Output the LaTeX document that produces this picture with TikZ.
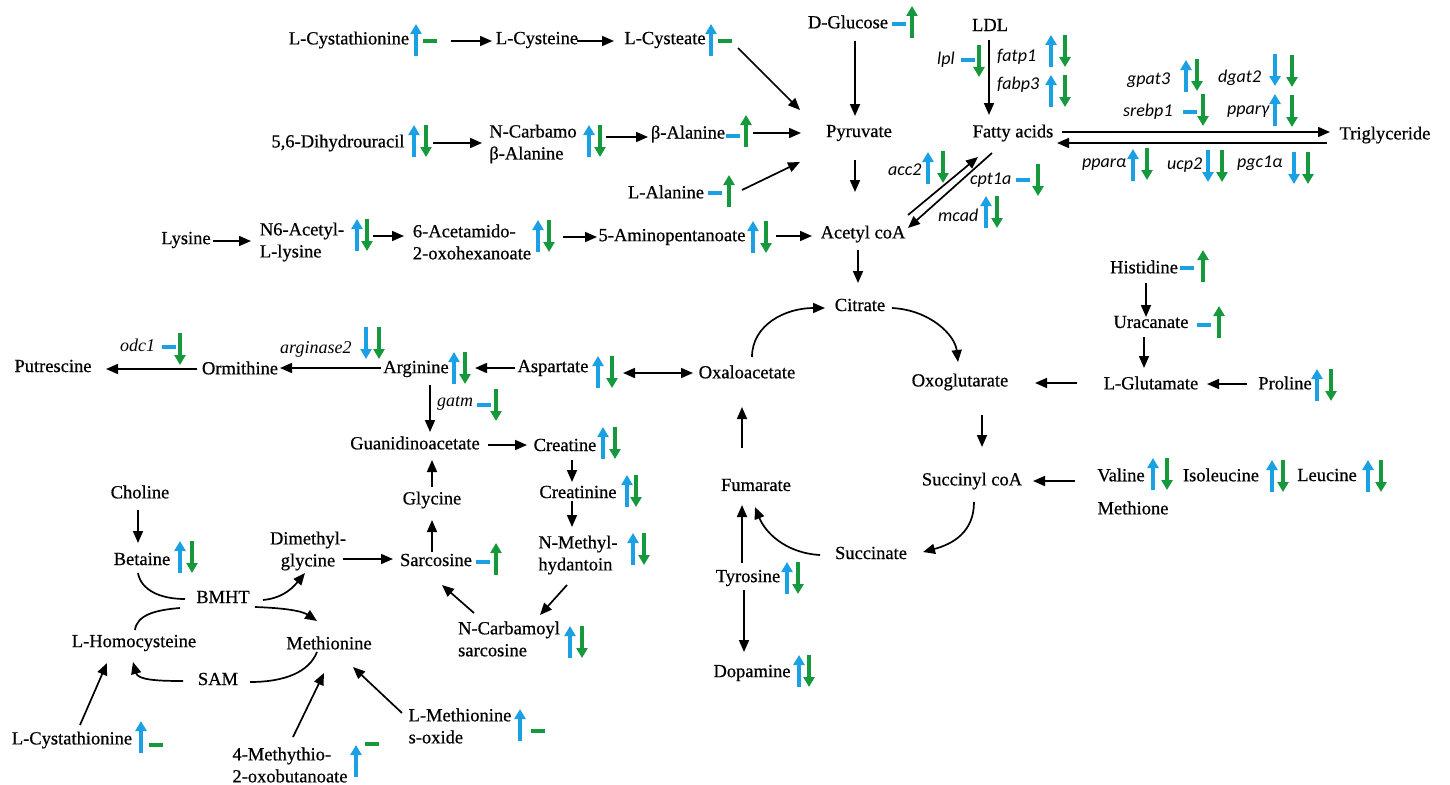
\documentclass[tikz,border=0pt]{standalone}
\usepackage{fontspec}
\setmainfont{Liberation Serif}
\newfontfamily\mfont{Liberation Serif}[BoldFont=Liberation Serif,BoldFeatures={FakeBold=0.6}]
\newfontfamily\genefont{Carlito}
\usetikzlibrary{arrows.meta}
\definecolor{cb}{RGB}{28,160,228}
\definecolor{cg}{RGB}{22,152,60}
\tikzset{
 mt/.style={font=\mfont\bfseries\fontsize{18.5}{22}\selectfont, inner sep=0pt, align=left},
 gn/.style={font=\genefont\itshape\fontsize{18}{20}\selectfont, inner sep=0pt, anchor=west},
 sg/.style={font=\itshape\fontsize{18}{22}\selectfont, inner sep=0pt, anchor=west},
 arr/.style={line width=1.7pt, -{Triangle[length=12pt,width=10pt]}},
 darr/.style={line width=1.7pt, {Triangle[length=12pt,width=10pt]}-{Triangle[length=12pt,width=10pt]}},
 ln/.style={line width=1.7pt},
 ind/.style={line width=3.5pt, -{Triangle[length=10pt,width=11pt]}},
 bU/.pic={\draw[ind,cb] (0,16)--(0,-16);},
 bD/.pic={\draw[ind,cb] (0,-16)--(0,16);},
 bN/.pic={\draw[cb,line width=3.5pt] (-7,0)--(7,0);},
 gU/.pic={\draw[ind,cg] (0,16)--(0,-16);},
 gD/.pic={\draw[ind,cg] (0,-16)--(0,16);},
 gN/.pic={\draw[cg,line width=3.5pt] (-7,0)--(7,0);},
}
\begin{document}
\begin{tikzpicture}[x=1pt,y=-1pt]
\useasboundingbox[fill=white] (0,0) rectangle (1450,784);
% ---------- metabolites ----------
\node[mt] (lcyst1) at (349,40) {L-Cystathionine};
\node[mt] (lcysteine) at (537,40) {L-Cysteine};
\node[mt] (lcysteate) at (665,40) {L-Cysteate};
\node[mt] (dhu) at (338,143) {5,6-Dihydrouracil};
\node[mt] (ncb) at (533,144) {N-Carbamo\\β-Alanine};
\node[mt] (balan) at (688,134) {β-Alanine};
\node[mt] (pyr) at (859,133) {Pyruvate};
\node[mt] (lala) at (666,192) {L-Alanine};
\node[mt] (dglu) at (848,22) {D-Glucose};
\node[mt] (lys) at (186,240) {Lysine};
\node[mt] (n6) at (302,242) {N6-Acetyl-\\L-lysine};
\node[mt] (aceta) at (472,242) {6-Acetamido-\\2-oxohexanoate};
\node[mt] (amino) at (672,237) {5-Aminopentanoate};
\node[mt] (acoa) at (863,234) {Acetyl coA};
\node[mt] (ldl) at (990,25) {LDL};
\node[mt] (fa) at (1013,133) {Fatty acids};
\node[mt] (tg) at (1385,135) {Triglyceride};
\node[mt] (citrate) at (860,305) {Citrate};
\node[mt] (oaa) at (747,372) {Oxaloacetate};
\node[mt] (oxo) at (960,382) {Oxoglutarate};
\node[mt] (scoa) at (972,481) {Succinyl coA};
\node[mt] (succ) at (871,553) {Succinate};
\node[mt] (fum) at (756,485) {Fumarate};
\node[mt] (tyr) at (748,578) {Tyrosine};
\node[mt] (dop) at (752,673) {Dopamine};
\node[mt] (his) at (1144,267) {Histidine};
\node[mt] (ura) at (1151,322) {Uracanate};
\node[mt] (glu) at (1151,383) {L-Glutamate};
\node[mt] (pro) at (1285,383) {Proline};
\node[mt] (val) at (1121,475) {Valine};
\node[mt] (ile) at (1221,475) {Isoleucine};
\node[mt] (leu) at (1327,475) {Leucine};
\node[mt] (meth2) at (1133,508) {Methione};
\node[mt] (asp) at (553,368) {Aspartate};
\node[mt] (arg) at (416,369) {Arginine};
\node[mt] (orn) at (240,368) {Ormithine};
\node[mt] (put) at (53,366) {Putrescine};
\node[mt] (gaa) at (415,443) {Guanidinoacetate};
\node[mt] (crea) at (565,445) {Creatine};
\node[mt] (crn) at (578,492) {Creatinine};
\node[mt] (nmh) at (578,555) {N-Methyl-\\hydantoin};
\node[mt] (ncs) at (509,639) {N-Carbamoyl\\sarcosine};
\node[mt] (sar) at (436,560) {Sarcosine};
\node[mt] (gly) at (432,500) {Glycine};
\node[mt,align=center] (dmg) at (308,551) {Dimethyl-\\glycine};
\node[mt] (chol) at (140,492) {Choline};
\node[mt] (bet) at (142,559) {Betaine};
\node[mt] (bmht) at (223,597) {BMHT};
\node[mt] (hcy) at (134,643) {L-Homocysteine};
\node[mt] (met) at (329,643) {Methionine};
\node[mt] (sam) at (218,679) {SAM};
\node[mt] (lcyst2) at (72,740) {L-Cystathionine};
\node[mt] (mtob) at (290,765) {4-Methythio-\\2-oxobutanoate};
\node[mt] (mso) at (460,726) {L-Methionine\\s-oxide};
% ---------- gene labels ----------
\node[gn] (lpl) at (937,60) {lpl};
\node[gn] (fatp1) at (997,57) {fatp1};
\node[gn] (fabp3) at (997,85) {fabp3};
\node[gn] (gpat3) at (1127,80) {gpat3};
\node[gn] (dgat2) at (1218,78) {dgat2};
\node[gn] (srebp1) at (1123,112) {srebp1};
\node[gn] (pparg) at (1227,112) {pparγ};
\node[gn] (ppara) at (1082,165) {pparα};
\node[gn] (ucp2) at (1167,165) {ucp2};
\node[gn] (pgc1a) at (1237,163) {pgc1α};
\node[gn] (acc2) at (888,170) {acc2};
\node[gn] (cpt1a) at (970,180) {cpt1a};
\node[gn] (mcad) at (938,215) {mcad};
\node[sg] (odc1) at (120,345) {odc1};
\node[sg] (arginase2) at (280,349) {arginase2};
\node[sg] (gatm) at (437,403) {gatm};
% ---------- indicators ----------
\pic at (416,40) {bU}; \pic at (430,41) {gN};
\pic at (711,40) {bU}; \pic at (725,41) {gN};
\pic at (414,141) {bU}; \pic at (426,141) {gD};
\pic at (589,141) {bU}; \pic at (600,141) {gD};
\pic at (733,136) {bN}; \pic at (746,131) {gU};
\pic at (715,193) {bN}; \pic at (729,191) {gU};
\pic at (899,24) {bN}; \pic at (912,22) {gU};
\pic at (357,235) {bU}; \pic at (367,235) {gD};
\pic at (538,236) {bU}; \pic at (549,236) {gD};
\pic at (753,237) {bU}; \pic at (766,237) {gD};
\pic at (787,578) {bU}; \pic at (798,578) {gD};
\pic at (799,671) {bU}; \pic at (809,671) {gD};
\pic at (1187,268) {bN}; \pic at (1203,266) {gU};
\pic at (1204,325) {bN}; \pic at (1219,322) {gU};
\pic at (1317,385) {bU}; \pic at (1331,385) {gD};
\pic at (1153,474) {bU}; \pic at (1167,474) {gD};
\pic at (1272,476) {bU}; \pic at (1283,476) {gD};
\pic at (1368,476) {bU}; \pic at (1381,476) {gD};
\pic at (598,372) {bU}; \pic at (612,372) {gD};
\pic at (454,368) {bU}; \pic at (465,368) {gD};
\pic at (603,443) {bU}; \pic at (615,443) {gD};
\pic at (627,491) {bU}; \pic at (636,491) {gD};
\pic at (633,549) {bU}; \pic at (644,549) {gD};
\pic at (570,642) {bU}; \pic at (582,642) {gD};
\pic at (483,562) {bN}; \pic at (496,559) {gU};
\pic at (180,557) {bU}; \pic at (192,557) {gD};
\pic at (141,737) {bU}; \pic at (156,745) {gN};
\pic at (356,761) {bU}; \pic at (372,744) {gN};
\pic at (520,725) {bU}; \pic at (538,731) {gN};
% gene indicators
\pic at (968,60) {bN}; \pic at (979,61) {gD};
\pic at (1051,51) {bU}; \pic at (1065,51) {gD};
\pic at (1051,91) {bU}; \pic at (1065,91) {gD};
\pic at (1186,76) {bU}; \pic at (1197,75) {gD};
\pic at (1275,70) {bD}; \pic at (1292,71) {gD};
\pic at (1190,112) {bN}; \pic at (1203,110) {gD};
\pic at (1275,110) {bU}; \pic at (1292,111) {gD};
\pic at (1133,165) {bU}; \pic at (1147,164) {gD};
\pic at (1208,166) {bD}; \pic at (1222,166) {gD};
\pic at (1294,168) {bD}; \pic at (1308,168) {gD};
\pic at (928,168) {bU}; \pic at (943,167) {gD};
\pic at (1023,180) {bN}; \pic at (1038,180) {gD};
\pic at (986,212) {bU}; \pic at (997,212) {gD};
\pic at (169,347) {bN}; \pic at (180,349) {gD};
\pic at (366,343) {bD}; \pic at (379,343) {gD};
\pic at (484,405) {bN}; \pic at (496,405) {gD};
% ---------- connectors ----------
\draw[arr] ([shift={(102,1)}]lcyst1.center) -- ([shift={(-45,1)}]lcysteine.center);
\draw[arr] ([shift={(40,1)}]lcysteine.center) -- ([shift={(-51,1)}]lcysteate.center);
\draw[arr] ([shift={(73,8)}]lcysteate.center) -- ([shift={(-59,-23)}]pyr.center);
\draw[arr] ([shift={(95,0)}]dhu.center) -- ([shift={(-51,-1)}]ncb.center);
\draw[arr] ([shift={(73,-7)}]ncb.center) -- ([shift={(-40,3)}]balan.center);
\draw[arr] ([shift={(65,-1)}]balan.center) -- ([shift={(-58,0)}]pyr.center);
\draw[arr] ([shift={(76,-2)}]lala.center) -- ([shift={(-59,29)}]pyr.center);
\draw[arr] ([shift={(7,19)}]dglu.center) -- ([shift={(-4,-17)}]pyr.center);
\draw[arr] ([shift={(-4,27)}]pyr.center) -- ([shift={(-8,-42)}]acoa.center);
\draw[arr] ([shift={(27,1)}]lys.center) -- ([shift={(-51,-1)}]n6.center);
\draw[arr] ([shift={(71,-6)}]n6.center) -- ([shift={(-68,-6)}]aceta.center);
\draw[arr] ([shift={(91,-5)}]aceta.center) -- ([shift={(-75,0)}]amino.center);
\draw[arr] ([shift={(104,-1)}]amino.center) -- ([shift={(-51,2)}]acoa.center);
\draw[arr] ([shift={(45,-19)}]acoa.center) -- ([shift={(-35,24)}]fa.center);
\draw[arr] ([shift={(-21,20)}]fa.center) -- ([shift={(45,-6)}]acoa.center);
\draw[arr] ([shift={(-1,15)}]ldl.center) -- ([shift={(-24,-18)}]fa.center);
\draw[arr] ([shift={(49,-1)}]fa.center) -- ([shift={(-55,-3)}]tg.center);
\draw[arr] ([shift={(-58,8)}]tg.center) -- ([shift={(44,10)}]fa.center);
\draw[arr] ([shift={(-5,16)}]acoa.center) -- ([shift={(-2,-22)}]citrate.center);
\draw[arr] ([shift={(5,-15)}]oaa.center) .. controls +(0,-32) and +(-40,0) .. ([shift={(-35,3)}]citrate.center);
\draw[arr] ([shift={(32,3)}]citrate.center) .. controls +(38,2) and +(-3,-27) .. ([shift={(-2,-20)}]oxo.center);
\draw[arr] ([shift={(-74,0)}]glu.center) -- ([shift={(75,1)}]oxo.center);
\draw[arr] ([shift={(-38,1)}]pro.center) -- ([shift={(56,1)}]glu.center);
\draw[arr] ([shift={(2,16)}]his.center) -- ([shift={(-5,-5)}]ura.center);
\draw[arr] ([shift={(-7,15)}]ura.center) -- ([shift={(-7,-15)}]glu.center);
\draw[arr] ([shift={(22,33)}]oxo.center) -- ([shift={(10,-34)}]scoa.center);
\draw[arr] ([shift={(-46,6)}]val.center) -- ([shift={(61,0)}]scoa.center);
\draw[arr] ([shift={(2,21)}]scoa.center) .. controls +(0,30) and +(30,-8) .. ([shift={(52,-1)}]succ.center);
\draw[arr] ([shift={(-51,2)}]succ.center) .. controls +(-35,-2) and +(10,25) .. ([shift={(-1,22)}]fum.center);
\draw[arr] ([shift={(-6,-15)}]tyr.center) -- ([shift={(-14,20)}]fum.center);
\draw[arr] ([shift={(-14,-37)}]fum.center) -- ([shift={(-5,35)}]oaa.center);
\draw[arr] ([shift={(-4,12)}]tyr.center) -- ([shift={(-8,-21)}]dop.center);
\draw[darr] ([shift={(70,5)}]asp.center) -- ([shift={(-54,1)}]oaa.center);
\draw[arr] ([shift={(-38,0)}]asp.center) -- ([shift={(59,-1)}]arg.center);
\draw[arr] ([shift={(-35,-1)}]arg.center) -- ([shift={(40,0)}]orn.center);
\draw[arr] ([shift={(-43,1)}]orn.center) -- ([shift={(53,3)}]put.center);
\draw[arr] ([shift={(14,16)}]arg.center) -- ([shift={(15,-11)}]gaa.center);
\draw[arr] ([shift={(73,2)}]gaa.center) -- ([shift={(-38,0)}]crea.center);
\draw[arr] ([shift={(7,15)}]crea.center) -- ([shift={(-6,-10)}]crn.center);
\draw[arr] ([shift={(-6,9)}]crn.center) -- ([shift={(-6,-28)}]nmh.center);
\draw[arr] ([shift={(-11,30)}]nmh.center) -- ([shift={(31,-24)}]ncs.center);
\draw[arr] ([shift={(-35,-26)}]ncs.center) -- ([shift={(6,25)}]sar.center);
\draw[arr] ([shift={(-4,-8)}]sar.center) -- ([shift={(0,20)}]gly.center);
\draw[arr] ([shift={(0,-13)}]gly.center) -- ([shift={(17,17)}]gaa.center);
\draw[arr] ([shift={(35,8)}]dmg.center) -- ([shift={(-43,-1)}]sar.center);
\draw[arr] ([shift={(-2,18)}]chol.center) -- ([shift={(-4,-16)}]bet.center);
\draw[ln] ([shift={(-4,14)}]bet.center) .. controls +(3,17) and +(-25,0) .. ([shift={(-38,2)}]bmht.center);
\draw[arr] ([shift={(40,3)}]bmht.center) .. controls +(22,-2) and +(-10,12) .. ([shift={(-3,22)}]dmg.center);
\draw[arr] ([shift={(32,10)}]bmht.center) .. controls +(30,1) and +(-15,-10) .. ([shift={(-12,-22)}]met.center);
\draw[ln] ([shift={(1,-13)}]hcy.center) .. controls +(2,-15) and +(-25,2) .. ([shift={(-43,11)}]bmht.center);
\draw[arr] ([shift={(-35,2)}]sam.center) .. controls +(-25,0) and +(5,18) .. ([shift={(-1,19)}]hcy.center);
\draw[ln] ([shift={(-12,9)}]met.center) .. controls +(-8,20) and +(35,0) .. ([shift={(32,3)}]sam.center);
\draw[arr] ([shift={(8,-15)}]lcyst2.center) -- ([shift={(-27,20)}]hcy.center);
\draw[arr] ([shift={(3,-28)}]mtob.center) -- ([shift={(-5,30)}]met.center);
\draw[arr] ([shift={(-58,-13)}]mso.center) -- ([shift={(24,24)}]met.center);
\end{tikzpicture}
\end{document}
